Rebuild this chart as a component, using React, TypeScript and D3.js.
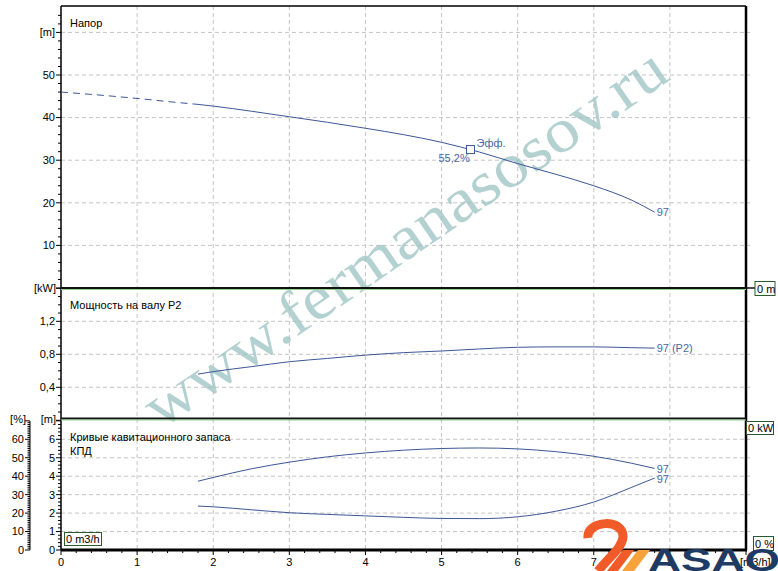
import React from "react";
import * as d3 from "d3";

// pump curves, flow in m3/h
const FLOW = [1.8, 2, 2.5, 3, 3.5, 4, 4.5, 5, 5.5, 6, 6.5, 7, 7.5, 7.8];
const HEAD = [43.1, 42.7, 41.5, 40.2, 38.9, 37.5, 36.0, 34.2, 31.9, 29.2, 26.7, 24.0, 20.6, 17.8];
const HEAD_EXT_FLOW = [0, 0.5, 1, 1.5, 1.8];
const HEAD_EXT = [46, 45.3, 44.5, 43.6, 43.1];
const POWER = [0.56, 0.59, 0.65, 0.71, 0.75, 0.79, 0.82, 0.84, 0.865, 0.885, 0.89, 0.89, 0.88, 0.875];
const EFF = [37.3, 39.3, 44.0, 47.6, 50.5, 52.6, 54.1, 55.0, 55.3, 54.8, 53.3, 50.8, 47.0, 44.2];
const NPSH = [2.38, 2.34, 2.18, 2.02, 1.93, 1.85, 1.77, 1.71, 1.7, 1.8, 2.1, 2.6, 3.4, 3.9];
const BEP_FLOW = 5.38;
const BEP_HEAD = 32.5;

const X_TICKS = [0, 1, 2, 3, 4, 5, 6, 7, 8];
const HEAD_TICKS = [10, 20, 30, 40, 50];
const POWER_TICKS = [0.4, 0.8, 1.2];
const POWER_LABELS = ["0,4", "0,8", "1,2"];
const NPSH_TICKS = [0, 1, 2, 3, 4, 5, 6];
const EFF_TICKS = [0, 10, 20, 30, 40, 50, 60];

const W = 778;
const H = 571;
const LEFT = 61;
const RIGHT = 746;
const TOP = 6;
const DIV1 = 288;
const DIV2 = 418.5;
const BOTTOM = 550;

const CURVE = "#3b5796";
const LABEL = "#4a66a3";
const FONT = "'Liberation Sans', Arial, sans-serif";

export default function App() {
  const x = d3.scaleLinear().domain([0, 9]).range([LEFT, RIGHT]);
  const yHead = d3.scaleLinear().domain([0, 66.2]).range([DIV1, TOP]);
  const yPow = d3.scaleLinear().domain([0, 1.6]).range([420.3, 288.3]);
  const yNpsh = d3.scaleLinear().domain([0, 7]).range([BOTTOM, BOTTOM - 7 * 18.45]);
  const yEff = d3.scaleLinear().domain([0, 70]).range([BOTTOM, BOTTOM - 7 * 18.45]);

  const mk = (ys: number[], sy: d3.ScaleLinear<number, number>, xs = FLOW) =>
    d3
      .line<number>()
      .x((_, i) => x(xs[i]))
      .y((d) => sy(d))
      .curve(d3.curveMonotoneX)(ys) || "";

  const grid = { stroke: "#c4c4c4", strokeDasharray: "4,3", strokeWidth: 1 };
  const last = FLOW[FLOW.length - 1];

  const minorHead = d3.range(0, 66, 2);
  const minorPow = d3.range(0, 1.61, 0.1);
  const minorNpsh = d3.range(0, 7.01, 0.2);
  const minorEff = d3.range(0, 71, 1);
  const minorX = d3.range(0, 9.01, 0.2);

  return (
    <svg
      width={W}
      height={H}
      style={{ position: "absolute", left: 0, top: 0, background: "#fff" }}
      fontFamily={FONT}
      fontSize={11}
    >
      {/* grid */}
      {X_TICKS.slice(1).map((t) => (
        <line key={"vx" + t} x1={x(t)} x2={x(t)} y1={TOP} y2={BOTTOM} {...grid} />
      ))}
      {[...HEAD_TICKS, 60].map((t) => (
        <line key={"hh" + t} x1={LEFT} x2={RIGHT + 4} y1={yHead(t)} y2={yHead(t)} {...grid} />
      ))}
      {POWER_TICKS.map((t) => (
        <line key={"hp" + t} x1={LEFT} x2={RIGHT + 4} y1={yPow(t)} y2={yPow(t)} {...grid} />
      ))}
      {NPSH_TICKS.slice(1).map((t) => (
        <line key={"hn" + t} x1={LEFT} x2={RIGHT + 4} y1={yNpsh(t)} y2={yNpsh(t)} {...grid} />
      ))}

      {/* watermark */}
      <text
        transform="translate(405,238) rotate(-34.5)"
        textAnchor="middle"
        fontFamily="'Liberation Serif', 'DejaVu Serif', serif"
        fontSize={62}
        textLength={620}
        lengthAdjust="spacingAndGlyphs"
        fill="#9cc2c2"
        opacity={0.75}
        dy={20}
      >
        www.fermanasosov.ru
      </text>

      {/* frame */}
      <line x1={LEFT} x2={RIGHT} y1={TOP} y2={TOP} stroke="#000" strokeWidth={1.5} />
      <line x1={RIGHT} x2={RIGHT} y1={TOP} y2={BOTTOM} stroke="#000" strokeWidth={2.5} />
      <line x1={LEFT} x2={LEFT} y1={TOP} y2={BOTTOM} stroke="#000" strokeWidth={1.5} />
      {[DIV1, DIV2].map((d) => (
        <g key={"d" + d}>
          <line x1={LEFT} x2={RIGHT} y1={d} y2={d} stroke="#111" strokeWidth={2} />
          <line x1={LEFT} x2={RIGHT} y1={d + 1.5} y2={d + 1.5} stroke="#8fd08f" strokeWidth={1} />
        </g>
      ))}
      <line x1={LEFT} x2={RIGHT + 1} y1={BOTTOM} y2={BOTTOM} stroke="#000" strokeWidth={3} />
      <line x1={RIGHT} x2={757} y1={DIV1} y2={DIV1} stroke="#111" strokeWidth={1.5} />

      {/* left axes ticks */}
      {minorHead.map((t) => (
        <line key={"mh" + t} x1={LEFT - (t % 10 === 0 ? 5 : 3)} x2={LEFT} y1={yHead(t)} y2={yHead(t)} stroke="#000" />
      ))}
      {minorPow.map((t, i) => (
        <line key={"mp" + i} x1={LEFT - (i % 4 === 0 ? 5 : 3)} x2={LEFT} y1={yPow(t)} y2={yPow(t)} stroke="#000" />
      ))}
      {minorNpsh.map((t, i) => (
        <line key={"mn" + i} x1={LEFT - (i % 5 === 0 ? 5 : 3)} x2={LEFT} y1={yNpsh(t)} y2={yNpsh(t)} stroke="#000" />
      ))}
      <line x1={30} x2={30} y1={421} y2={BOTTOM} stroke="#000" />
      {minorEff.map((t) => (
        <line key={"me" + t} x1={30 - (t % 10 === 0 ? 5 : 2.5)} x2={30} y1={yEff(t)} y2={yEff(t)} stroke="#000" />
      ))}
      {minorX.map((t, i) => (
        <line key={"mx" + i} x1={x(t)} x2={x(t)} y1={BOTTOM} y2={BOTTOM + (i % 5 === 0 ? 5 : 3)} stroke="#000" />
      ))}

      {/* tick labels */}
      {HEAD_TICKS.map((t) => (
        <text key={"lh" + t} x={55} y={yHead(t)} dy="0.35em" textAnchor="end">
          {t}
        </text>
      ))}
      <text x={55} y={yHead(60)} dy="0.35em" textAnchor="end">[m]</text>
      {POWER_TICKS.map((t, i) => (
        <text key={"lp" + t} x={55} y={yPow(t)} dy="0.35em" textAnchor="end">
          {POWER_LABELS[i]}
        </text>
      ))}
      <text x={56} y={DIV1} dy="0.35em" textAnchor="end">[kW]</text>
      {NPSH_TICKS.map((t) => (
        <text key={"ln" + t} x={55} y={yNpsh(t)} dy="0.35em" textAnchor="end">
          {t}
        </text>
      ))}
      <text x={56} y={DIV2 + 1} dy="0.35em" textAnchor="end">[m]</text>
      {EFF_TICKS.map((t) => (
        <text key={"le" + t} x={24} y={yEff(t)} dy="0.35em" textAnchor="end">
          {t}
        </text>
      ))}
      <text x={26} y={DIV2 + 1} dy="0.35em" textAnchor="end">[%]</text>
      {X_TICKS.map((t) => (
        <text key={"lx" + t} x={x(t)} y={566} textAnchor="middle">
          {t}
        </text>
      ))}
      <text x={740} y={566}>[m3/h]</text>

      {/* panel titles */}
      <text x={70} y={27}>Напор</text>
      <text x={70} y={309}>Мощность на валу P2</text>
      <text x={70} y={441}>Кривые кавитационного запаса</text>
      <text x={70} y={455}>КПД</text>

      {/* curves */}
      <path d={mk(HEAD_EXT, yHead, HEAD_EXT_FLOW)} fill="none" stroke={CURVE} strokeDasharray="7,5" />
      <path d={mk(HEAD, yHead)} fill="none" stroke={CURVE} />
      <path d={mk(POWER, yPow)} fill="none" stroke={CURVE} />
      <path d={mk(EFF, yEff)} fill="none" stroke={CURVE} />
      <path d={mk(NPSH, yNpsh)} fill="none" stroke={CURVE} />

      <rect x={x(BEP_FLOW) - 4} y={yHead(BEP_HEAD) - 4} width={8} height={8} fill="#fff" stroke={CURVE} />
      <text x={x(BEP_FLOW) + 6} y={yHead(BEP_HEAD) - 3} fill={LABEL}>Эфф.</text>
      <text x={x(BEP_FLOW) - 32} y={yHead(BEP_HEAD) + 12} fill={LABEL}>55,2%</text>

      <text x={x(last) + 2} y={yHead(HEAD[HEAD.length - 1])} dy="0.35em" fill={LABEL}>97</text>
      <text x={x(last) + 2} y={yPow(POWER[POWER.length - 1])} dy="0.35em" fill={LABEL}>97 (P2)</text>
      <text x={x(last) + 2} y={yEff(EFF[EFF.length - 1])} dy="0.45em" fill={LABEL}>97</text>
      <text x={x(last) + 2} y={yNpsh(NPSH[NPSH.length - 1])} dy="0.45em" fill={LABEL}>97</text>

      {/* value boxes */}
      <g>
        <rect x={755} y={281.5} width={20} height={14} fill="#fff" stroke="#2d5a2d" />
        <text x={757} y={293}>0 m</text>
        <rect x={746.5} y={421.5} width={27} height={13} fill="#fff" stroke="#2d5a2d" />
        <text x={748} y={432}>0 kW</text>
        <rect x={753.5} y={536.5} width={20} height={14} fill="#fff" stroke="#2d5a2d" />
        <text x={755} y={548}>0 %</text>
        <rect x={64.5} y={532.5} width={37} height={13} fill="#fff" stroke="#2d5a2d" />
        <text x={66} y={543}>0 m3/h</text>
      </g>

      {/* logo */}
      <g>
        <path d="M588,538 C586,520 624,518 623,537 C622,548 610,556 598,571" fill="none" stroke="#f15a29" strokeWidth={9} />
        <path d="M607,571 L623,550 L634,550 L618,571 Z" fill="#f15a29" />
        <path d="M622,571 L638,550 L650,550 L634,571 Z" fill="#f7a23b" />
        <text
          x={648}
          y={571}
          fontFamily="'Liberation Sans', Arial, sans-serif"
          fontWeight="bold"
          fontSize={31}
          textLength={132}
          lengthAdjust="spacingAndGlyphs"
          fill="#1f3b63"
        >
          ASAO
        </text>
      </g>
    </svg>
  );
}
